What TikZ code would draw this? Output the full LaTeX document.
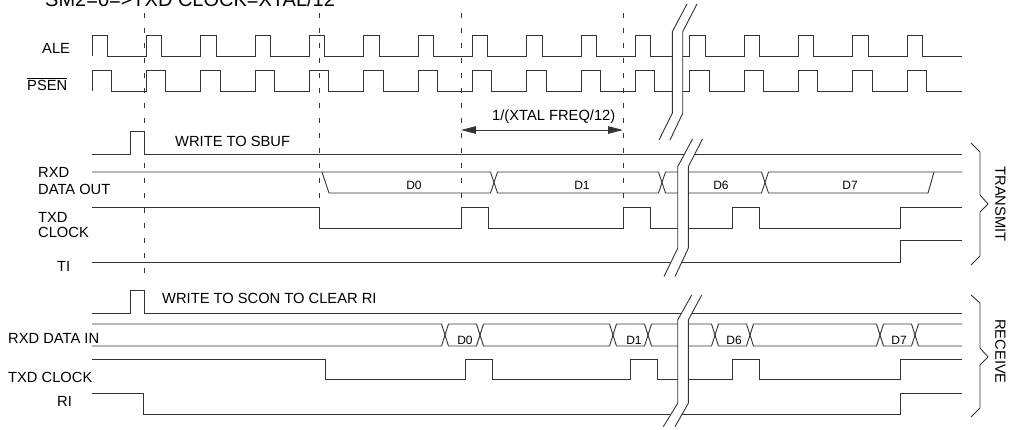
\documentclass[tikz,border=0pt]{standalone}
\usepackage{fontspec}
\setmainfont{Liberation Sans}
\usetikzlibrary{arrows.meta}
\begin{document}
\begin{tikzpicture}[x=1pt,y=-1pt,
  sig/.style={line width=0.9pt, draw=black!80, line join=miter},
  guide/.style={line width=0.8pt, draw=black!80, dash pattern=on 5pt off 10pt},
  lbl/.style={inner sep=0pt, anchor=base west, font=\fontsize{14.7}{16}\selectfont},
  dlbl/.style={inner sep=0pt, anchor=base, font=\fontsize{12}{14}\selectfont},
  side/.style={inner sep=0pt, anchor=center, rotate=-90, font=\fontsize{14.7}{16}\selectfont},
  brkfill/.style={fill=white, draw=none}
]
\useasboundingbox (0,0) rectangle (1013,429);
\fill[white] (0,0) rectangle (1013,429);

% title (cut off at the top edge, as in the reference)
\node[lbl, font=\fontsize{20}{22}\selectfont] (title) at (45,6) {SM2=0=>TXD CLOCK=XTAL/12};

% dashed guides
\draw[guide] (144,13) -- (144,282);
\draw[guide] (319,13) -- (319,205);
\draw[guide] (461,13) -- (461,207);
\draw[guide] (623,13) -- (623,207);

% ALE
\draw[sig] (92,56) \foreach \k in {0,...,15}{ -- ({92+54.33*\k},56) -- ({92+54.33*\k},35) -- ({107.5+54.33*\k},35) -- ({107.5+54.33*\k},56) } -- (962,56);
% PSEN
\draw[sig] (92,91) \foreach \k in {0,...,15}{ -- ({92+54.33*\k},91) -- ({92+54.33*\k},70) -- ({111.5+54.33*\k},70) -- ({111.5+54.33*\k},91) } -- (962,91);

% measurement arrow
\coordinate (ma) at (461,130);
\coordinate (mb) at (623,130);
\draw[sig, {Triangle[length=15pt,width=7.5pt]}-{Triangle[length=15pt,width=7.5pt]}] (ma) -- (mb);
\node[lbl] (per) at (492,120) {1/(XTAL FREQ/12)};

% WRITE TO SBUF
\draw[sig] (92,154) -- (130,154) -- (130,131) -- (144,131) -- (144,154) -- (962,154);
\node[lbl] (wsbuf) at (175,146) {WRITE TO SBUF};

% RXD DATA OUT
\draw[sig] (92,172) -- (322,172) -- (329,193) -- (490.5,193) -- (497.5,172) -- (658.5,172) -- (665.5,193) -- (761.5,193) -- (768.5,172) -- (962,172);
\draw[sig] (322,172) -- (490.5,172) -- (497.5,193) -- (658.5,193) -- (665.5,172) -- (761.5,172) -- (768.5,193) -- (928,193) -- (934,172);
\node[dlbl] (d0t) at (414,189) {D0};
\node[dlbl] (d1t) at (582,189) {D1};
\node[dlbl] (d6t) at (721,189) {D6};
\node[dlbl] (d7t) at (850,189) {D7};

% TXD CLOCK transmit
\draw[sig] (92,207) -- (319,207) -- (319,228) -- (461,228) -- (461,207) -- (488,207) -- (488,228) -- (623,228) -- (623,207) -- (650,207) -- (650,228) -- (732,228) -- (732,207) -- (759,207) -- (759,228) -- (900,228) -- (900,207) -- (962,207);
% TI
\draw[sig] (92,262) -- (900,262) -- (900,240) -- (962,240);

% WRITE TO SCON
\draw[sig] (92,313) -- (130,313) -- (130,290) -- (144,290) -- (144,313) -- (962,313);
\node[lbl] (wscon) at (162,303) {WRITE TO SCON TO CLEAR RI};

% RXD DATA IN
\draw[sig] (92,324) -- (441.5,324) -- (448.5,346) -- (476.5,346) -- (483.5,324) -- (609.5,324) -- (616.5,346) -- (644.5,346) -- (651.5,324) -- (711.5,324) -- (718.5,346) -- (746.5,346) -- (753.5,324) -- (876.5,324) -- (883.5,346) -- (911.5,346) -- (918.5,324) -- (962,324);
\draw[sig] (92,346) -- (441.5,346) -- (448.5,324) -- (476.5,324) -- (483.5,346) -- (609.5,346) -- (616.5,324) -- (644.5,324) -- (651.5,346) -- (711.5,346) -- (718.5,324) -- (746.5,324) -- (753.5,346) -- (876.5,346) -- (883.5,324) -- (911.5,324) -- (918.5,346) -- (962,346);
\node[dlbl] (d0r) at (465,344) {D0};
\node[dlbl] (d1r) at (634,344) {D1};
\node[dlbl] (d6r) at (734,344) {D6};
\node[dlbl] (d7r) at (899,344) {D7};

% TXD CLOCK receive
\draw[sig] (92,359) -- (325,359) -- (325,379) -- (465,379) -- (465,359) -- (492,359) -- (492,379) -- (630,379) -- (630,359) -- (657,359) -- (657,379) -- (732,379) -- (732,359) -- (759,359) -- (759,379) -- (900,379) -- (900,359) -- (962,359);
% RI
\draw[sig] (92,393) -- (143,393) -- (143,414) -- (900,414) -- (900,393) -- (962,393);

% signal labels
\node[lbl] (ale) at (42,53) {ALE};
\node[lbl] (psen) at (27,90) {$\overline{\mbox{PSEN}}$};
\node[lbl] (rxd) at (38,177) {RXD};
\node[lbl] (dout) at (38,194) {DATA OUT};
\node[lbl] (txd) at (38,222) {TXD};
\node[lbl] (clk) at (38,237) {CLOCK};
\node[lbl] (ti) at (57,271) {TI};
\node[lbl] (rxdin) at (8,343) {RXD DATA IN};
\node[lbl] (txdclk) at (8,382) {TXD CLOCK};
\node[lbl] (ri) at (57,406) {RI};

% break marks
\fill[brkfill] (687,4) -- (672.3,31.7) -- (672.3,113.3) -- (659,140) -- (670,140) -- (682.7,113.3) -- (682.7,31.7) -- (697,4) -- cycle;
\draw[sig] (687,4) -- (672.3,31.7) -- (672.3,113.3) -- (659,140);
\draw[sig] (697,4) -- (682.7,31.7) -- (682.7,113.3) -- (670,140);

\fill[brkfill] (692.5,139) -- (677.7,166.7) -- (677.7,248.3) -- (664,276.5) -- (675,276.5) -- (688.3,248.3) -- (688.3,166.7) -- (702.5,139) -- cycle;
\draw[sig] (692.5,139) -- (677.7,166.7) -- (677.7,248.3) -- (664,276.5);
\draw[sig] (702.5,139) -- (688.3,166.7) -- (688.3,248.3) -- (675,276.5);

\fill[brkfill] (691.7,295) -- (677.7,320) -- (677.7,403.3) -- (663.3,426.7) -- (675,426.7) -- (688.3,403.3) -- (688.3,320) -- (701.7,295) -- cycle;
\draw[sig] (691.7,295) -- (677.7,320) -- (677.7,403.3) -- (663.3,426.7);
\draw[sig] (701.7,295) -- (688.3,320) -- (688.3,403.3) -- (675,426.7);

% braces
\draw[sig] (971,143) -- (980,152) -- (980,195) -- (988,204) -- (980,212) -- (980,256) -- (971,265);
\node[side] (tx) at (1000.5,204) {TRANSMIT};
\draw[sig] (971,295) -- (980,303) -- (980,348) -- (988,357) -- (980,365) -- (980,408) -- (971,417);
\node[side] (rx) at (1000.5,351.5) {RECEIVE};
\end{tikzpicture}
\end{document}
